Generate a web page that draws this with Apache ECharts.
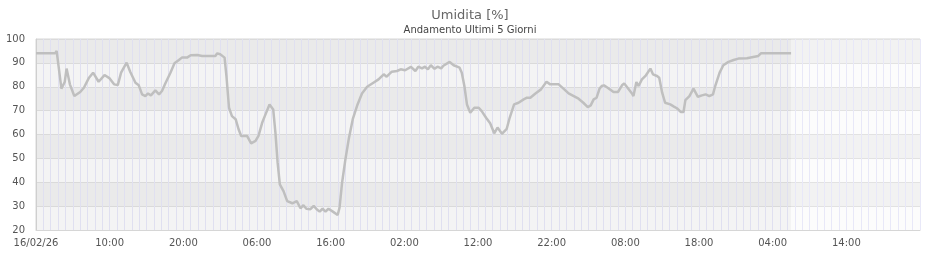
<!DOCTYPE html>
<html>
<head>
<meta charset="utf-8">
<script src="https://cdn.jsdelivr.net/npm/echarts@6/dist/echarts.min.js"></script>
<style>html,body{margin:0;padding:0;background:#fff;}#c{width:940px;height:260px;}</style>
</head>
<body>
<div id="c"></div>
<script>
// hours since 16/02/26 00:00
const hours = [0,2.6,2.8,3.45,3.9,4.15,4.6,5.2,6.0,6.5,7.2,7.75,8.5,9.3,10.0,10.6,11.1,11.55,12.3,12.8,13.5,13.95,14.4,14.85,15.2,15.6,16.2,16.7,17.1,17.6,18.25,18.8,19.4,19.8,20.5,21.0,21.9,22.55,24.35,24.6,25.0,25.6,25.85,26.2,26.6,27.1,27.5,27.85,28.65,29.2,29.8,30.2,30.7,31.1,31.35,31.7,32.2,32.5,32.8,33.1,33.6,34.1,34.8,35.4,35.9,36.3,36.7,37.25,37.7,38.1,38.5,38.9,39.3,39.7,40.3,40.95,41.2,41.55,42.0,42.45,43.0,43.65,44.25,44.95,45.8,46.5,47.2,47.6,48.3,49.0,49.5,50.1,50.9,51.5,51.9,52.4,52.8,53.2,53.6,54.1,54.5,55.0,55.3,56.15,56.7,57.5,57.8,58.15,58.5,58.95,59.5,60.1,60.5,61.1,61.65,62.2,62.65,63.25,63.9,64.3,64.9,65.5,66.2,66.65,67.1,67.8,68.55,69.3,69.8,70.95,71.6,72.3,73.0,73.65,74.3,74.9,75.3,75.7,76.1,76.5,76.8,77.1,77.6,78.4,79.0,79.55,79.85,80.3,80.9,81.1,81.5,81.8,82.25,82.8,83.4,83.75,84.3,84.6,85.0,85.4,86.1,86.6,87.0,87.2,87.55,87.9,88.15,88.7,89.25,89.85,90.4,90.9,91.4,91.9,92.2,92.8,93.3,94.0,94.7,95.35,96.5,96.7,98.05,98.4,102.5];
const humidity = [94.0,94.0,95.0,79.2,82,87.6,81,76.1,77.8,79.6,83.8,85.9,82.1,84.9,83.5,81.0,80.7,85.9,90.1,86.2,81.7,80.6,76.8,76.1,77.2,76.4,78.5,76.8,78.2,81.7,85.9,89.8,91.2,92.2,92.2,93.2,93.3,92.9,92.9,94.0,93.6,92.2,84.5,71.2,67.7,66.4,62.2,59.4,59.4,56.3,57.3,59.4,64.9,68.0,67.6,72.6,70.5,60.8,48.2,39.1,36.3,32.1,31.2,32.1,29.1,30.4,28.9,28.7,30.1,28.7,27.7,28.9,27.7,28.9,27.7,26.3,29.3,39.8,49.6,58.0,66.4,72.6,77.2,80.0,81.7,83.1,85.2,84.2,86.3,86.6,87.3,86.9,88.3,86.6,88.4,87.7,88.4,87.3,89.0,87.5,88.4,87.7,88.8,90.4,89.0,88.0,85.9,80.3,72.6,69.1,71.2,71.2,69.8,67.0,64.7,60.5,62.9,60.3,62.4,67.0,72.6,73.3,74.7,75.4,75.4,77.2,78.9,82.1,81.0,81.0,79.2,77.2,76.1,75.0,73.3,71.5,72.2,74.7,75.4,79.2,80.3,80.6,79.6,77.8,77.8,80.6,81.4,79.6,77.2,76.1,82.0,80.3,83.1,84.8,87.6,85.2,84.5,83.8,77.5,73.3,72.6,71.7,71.0,71.7,69.4,69.4,74.4,76.1,79.2,75.8,76.4,76.8,76.1,76.8,80.3,85.9,89.0,90.4,91.2,91.8,91.9,92.6,92.9,94.0,94.0];
const xTickLabels = ['16/02/26','10:00','20:00','06:00','16:00','02:00','12:00','22:00','08:00','18:00','04:00','14:00'];
const yTicks = [20,30,40,50,60,70,80,90,100];

const chart = echarts.init(document.getElementById('c'), null, {renderer:'canvas'});
const FONT = 'DejaVu Sans';
chart.setOption({
  animation: false,
  backgroundColor: '#ffffff',
  title: [
    {text: 'Umidita [%]', left: 'center', top: 4, textStyle: {fontFamily: FONT, fontSize: 13, fontWeight: 'normal', color: '#666'}},
    {text: 'Andamento Ultimi 5 Giorni', left: 'center', top: 20, textStyle: {fontFamily: FONT, fontSize: 10, fontWeight: 'normal', color: '#444'}}
  ],
  grid: {left: 36, right: 20, top: 39, bottom: 30, show: true, borderColor: '#d6d6d6', borderWidth: 1, backgroundColor: 'transparent'},
  xAxis: {
    type: 'value', min: 0, max: 120, interval: 10,
    axisLine: {show: true, lineStyle: {color: '#d6d6d6'}},
    axisTick: {show: false},
    minorTick: {show: false, splitNumber: 10},
    splitLine: {show: true, lineStyle: {color: '#e8e8f8', width: 1}},
    minorSplitLine: {show: true, lineStyle: {color: '#e8e8f8', width: 1}},
    axisLabel: {
      fontFamily: FONT, fontSize: 10, color: '#555', margin: 8,
      formatter: v => { const i = Math.round(v / 10); return xTickLabels[i] !== undefined ? xTickLabels[i] : ''; }
    }
  },
  yAxis: {
    type: 'value', min: yTicks[0], max: yTicks[yTicks.length-1], interval: 10,
    axisLine: {show: true, lineStyle: {color: '#d6d6d6'}},
    axisTick: {show: false},
    splitLine: {show: true, lineStyle: {color: '#e2e2e2', width: 1}},
    splitArea: {show: true, areaStyle: {color: ['#fcfcfc', '#f2f2f2']}},
    axisLabel: {fontFamily: FONT, fontSize: 10, color: '#555', margin: 11}
  },
  series: [{
    type: 'line',
    data: hours.map((h, i) => [h, humidity[i]]),
    showSymbol: false,
    lineStyle: {color: '#bfbfbf', width: 2.5},
    markArea: {
      silent: true,
      itemStyle: {color: 'rgba(0,0,0,0.03)'},
      data: [[{xAxis: hours[0]}, {xAxis: hours[hours.length-1]}]]
    }
  }]
});
</script>
</body>
</html>
